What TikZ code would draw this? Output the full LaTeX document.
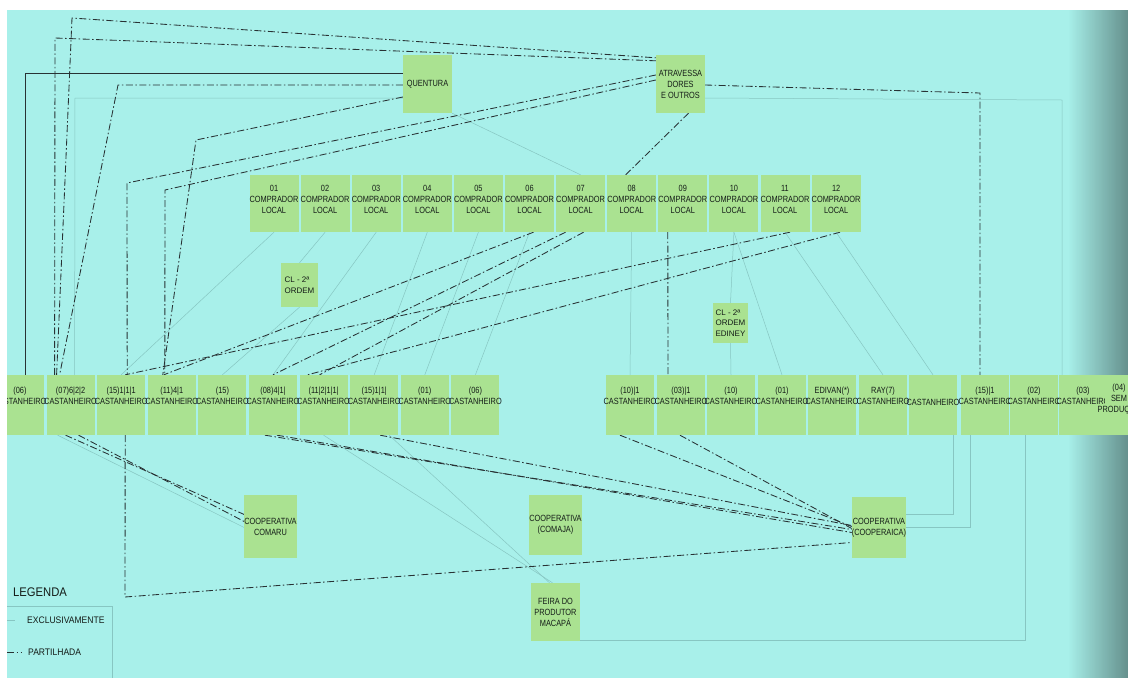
\documentclass[tikz,border=0pt]{standalone}
\usepackage{fontspec}
\setmainfont{Liberation Sans}[FakeStretch=0.82]
\newfontfamily\plainsans{Liberation Sans}
\newfontfamily\legendfont{Liberation Sans}[FakeStretch=0.9]
\usetikzlibrary{fadings}
\definecolor{bg}{RGB}{168,240,234}
\definecolor{boxg}{RGB}{170,226,145}
\definecolor{ink}{RGB}{20,28,24}
\definecolor{lineink}{RGB}{40,50,52}
\definecolor{faint}{RGB}{135,198,194}
\pgfdeclarelayer{back}
\pgfdeclarelayer{wires}
\pgfsetlayers{back,wires,main}
\newcommand\boxfont{\fontsize{9}{11}\selectfont}
\begin{document}
\begin{tikzpicture}[x=1pt,y=-1pt,
  box/.style={rectangle, fill=boxg, inner sep=0pt, text=ink, font=\boxfont, align=center,
              minimum width=49pt, minimum height=57pt},
  lbl/.style={text=ink, font=\boxfont, align=center, inner sep=0pt},
  cst/.style={box, minimum width=48pt, minimum height=60pt, label={[lbl, yshift=9pt]center:{#1}}},
  cmp/.style={box, label={[lbl, yshift=4pt]center:{#1}}},
  clbox/.style={box, align=left, font=\plainsans\fontsize{8}{10.5}\selectfont},
  sh/.style={draw=lineink, line width=0.85pt, dash pattern=on 7pt off 2.5pt on 1.5pt off 2.5pt},
  solidln/.style={draw=lineink, line width=1pt},
  ex/.style={draw=faint, line width=0.5pt},
  legtext/.style={anchor=west, text=ink, inner sep=0pt, font=\legendfont\fontsize{9.5}{11}\selectfont},
]
\useasboundingbox (0,0) rectangle (1128,678);
\begin{pgfonlayer}{back}
  \fill[bg] (0,0) rectangle (1128,678);
  % darker right margin of the sheet
  \fill[black, opacity=0.4, path fading=west] (1068,0) rectangle (1128,678);
\end{pgfonlayer}

% intermediaries
\node[box, minimum height=58pt] (Q) at (427.5,84) {QUENTURA};
\node[box, minimum height=58pt] (A) at (680.5,84) {ATRAVESSA\\DORES\\E OUTROS};

% local buyers
\foreach \i/\n in {1/01,2/02,3/03,4/04,5/05,6/06,7/07,8/08,9/09,10/10,11/11,12/12}
  \node[cmp={\n\\COMPRADOR\\LOCAL}] (c\i) at ({274+51.1*(\i-1)},203.5) {};

% second-order buyers
\node[clbox, minimum width=37pt, minimum height=44pt] (CL1) at (299.5,285) {CL - 2ª\\ORDEM};
\node[clbox, minimum width=35pt, minimum height=40pt] (CL2) at (730.5,323) {CL - 2ª\\ORDEM\\EDINEY};

% gatherers, left group
\foreach \i/\t in {1/{(06)},2/{(07)6|2|2},3/{(15)1|1|1},4/{(11)4|1},5/{(15)},
                   6/{(08)4|1|},7/{(11|2|1|1|},8/{(15)1|1|},9/{(01)},10/{(06)}}
  \node[cst={\t\\CASTANHEIRO}] (L\i) at ({20+50.6*(\i-1)},405) {};

% gatherers, right group
\foreach \i/\x/\t in {1/630/{(10)|1},2/681/{(03)|1},3/731/{(10)},4/782/{(01)},5/832/{EDIVAN(*)},
                      6/883/{RAY(7)},7/933/{\strut},8/985/{(15)|1},9/1034/{(02)},10/1083/{(03)}}
  \node[cst={\t\\CASTANHEIRO}] (R\i) at (\x,405) {};
\node[box, minimum width=48pt, minimum height=60pt,
      label={[lbl, yshift=6pt, xshift=-10pt]center:{(04)\\SEM\\PRODUÇÃO}}] (R11) at (1129,405) {};

% cooperatives and market
\node[box, minimum width=47pt, minimum height=63pt] (CM) at (270.5,526.5) {COOPERATIVA\\COMARU};
\node[box, minimum width=49pt, minimum height=60pt] (CJ) at (555.5,525) {COOPERATIVA\\(COMAJA)};
\node[box, minimum width=48pt, minimum height=61pt] (CO) at (879,527.5) {COOPERATIVA\\(COOPERAICA)};
\node[box, minimum width=49pt, minimum height=58pt] (FE) at (555.5,612) {FEIRA DO\\PRODUTOR\\MACAPÁ};

% legend
\node[anchor=west, text=ink, inner sep=0pt, font=\legendfont\fontsize{12.5}{14}\selectfont] (leg) at (13,592) {LEGENDA};
\node[legtext] (lex) at (27,620) {EXCLUSIVAMENTE};
\node[legtext] (lpa) at (28,652) {PARTILHADA};
\coordinate (e0) at (7,620);
\coordinate (p0) at (7,652);
\coordinate (f0) at (7,606);
\coordinate (f1) at (112,606);
\coordinate (f2) at (112,678);

\begin{pgfonlayer}{wires}
  % exclusive links (light)
  \draw[ex] (f0) -- (f1) -- (f2);
  \draw[ex] (e0) -- ([xshift=-12pt]lex.west);
  \draw[ex] ([yshift=-14pt]Q.west) -- (75,98) -- ([xshift=4pt]L2.north);
  \draw[ex] ([xshift=-13pt]L2.south) -- ([yshift=-1pt]CM.west);
  \draw[ex] (L7.south) -- ([xshift=-3pt]FE.north);
  \draw[ex] ([xshift=15pt]L8.south) -- ([xshift=-6pt]FE.north);
  \draw[ex] ([xshift=20pt]R7.south) -- (953,514) -- ([yshift=13.5pt]CO.east);
  \draw[ex] ([xshift=-15pt]R8.south) -- (970,527.5) -- (CO.east);
  \draw[ex] ([xshift=-9pt]R9.south) -- (1025,640) -- ([yshift=-28pt]FE.east);
  \draw[ex] (CL2.south) -- (R3.north);
  \draw[ex] (c1.south) -- (L3.north);
  \draw[ex] (c2.south) -- (CL1.north);
  \draw[ex] (CL1.south) -- (L5.north);
  \draw[ex] (c3.south) -- (L6.north);
  \draw[ex] (c4.south) -- (L8.north);
  \draw[ex] (c5.south) -- (L9.north);
  \draw[ex] (c6.south) -- (L10.north);
  \draw[ex] (c8.south) -- (R1.north);
  \draw[ex] (c10.south) -- (R4.north);
  \draw[ex] (c10.south) -- (CL2.north);
  \draw[ex] (c11.south) -- (R6.north);
  \draw[ex] (c12.south) -- (R7.north);
  \draw[ex] (Q.south east) -- (c7.north);
  \draw[ex] ([yshift=-14pt]A.east) -- (1062,100) -- ([xshift=28pt]R9.north);

  % exclusive link (dark)
  \draw[solidln] ([yshift=11pt]Q.west) -- (25,73) -- ([xshift=5pt]L1.north);

  % shared links
  \draw[sh] (p0) -- ([xshift=-7pt]lpa.west);
  \draw[sh] ([xshift=-14pt]L2.north) -- (72,18) -- ([yshift=-3pt]A.north west);
  \draw[sh] ([xshift=-16pt]L2.north) -- (55,38) -- ([yshift=-6pt]A.north west);
  \draw[sh] ([yshift=-1pt]Q.west) -- (118,85) -- ([xshift=-11pt]L2.north);
  \draw[sh] ([yshift=-13pt]Q.west) -- (196,140) -- ([xshift=-9pt]L4.north);
  \draw[sh] ([yshift=9pt]A.west) -- (127,183) -- ([xshift=6pt]L3.north);
  \draw[sh] ([yshift=4pt]A.west) -- (165,190) -- ([xshift=-7pt]L4.north);
  \draw[sh] ([yshift=-1pt]A.east) -- (980,93) -- ([xshift=-5pt]R8.north);
  \draw[sh] ([xshift=8pt]A.south) -- ([xshift=-6pt]c8.north);
  \draw[sh] ([xshift=-15pt]c9.south) -- ([xshift=-13pt]R2.north);
  \draw[sh] ([xshift=4pt]c6.south) -- ([xshift=-8pt]L4.north);
  \draw[sh] ([xshift=-15pt]c7.south) -- (L6.north);
  \draw[sh] ([xshift=3pt]c7.south) -- ([xshift=-4pt]L7.north);
  \draw[sh] ([xshift=5pt]c11.south) -- ([xshift=4pt]L3.north);
  \draw[sh] ([xshift=4pt]c12.south) -- ([xshift=-16pt]L7.north);
  \draw[sh] ([xshift=-5pt]L2.south) -- ([yshift=12pt]CM.west);
  \draw[sh] ([xshift=8pt]L2.south) -- ([yshift=5pt]CM.west);
  \draw[sh] ([xshift=4pt]L3.south) -- (125,597) -- ([yshift=-15pt]CO.west);
  \draw[sh] ([xshift=-8pt]L6.south) -- ([yshift=-2pt]CO.west);
  \draw[sh] ([xshift=4pt]L6.south) -- ([yshift=-5pt]CO.west);
  \draw[sh] ([xshift=6pt]L8.south) -- ([yshift=2pt]CO.west);
  \draw[sh] ([xshift=-10pt]R1.south) -- ([yshift=1pt]CO.west);
  \draw[sh] ([xshift=-1pt]R2.south) -- ([yshift=-1pt]CO.west);
\end{pgfonlayer}

% white edges of the sheet
\fill[white] (0,0) rectangle (1128,10);
\fill[white] (0,0) rectangle (7,678);
\end{tikzpicture}
\end{document}
